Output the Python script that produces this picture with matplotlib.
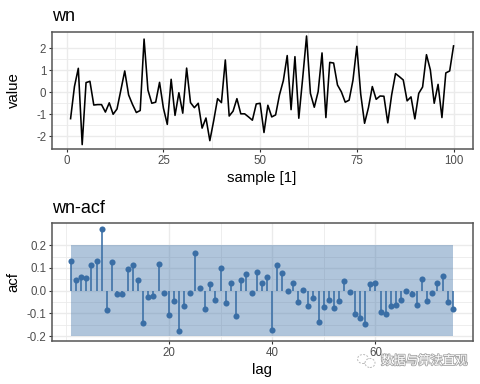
import numpy as np
import matplotlib
matplotlib.use("Agg")
import matplotlib.pyplot as plt
import matplotlib.patheffects as pe
from matplotlib.patches import Ellipse

plt.rcParams['font.family'] = ['Liberation Sans', 'Noto Sans CJK SC', 'DejaVu Sans']

wn = [-1.2,0.26,1.09,-2.38,0.44,0.5,-0.58,-0.56,-0.56,-0.9,-0.48,-1.0,-0.76,0.1,0.97,-0.12,-0.55,-0.92,-0.83,2.42,
      0.1,-0.5,-0.45,0.45,-0.72,-1.46,0.59,-1.05,-0.02,-0.95,1.1,-0.47,-0.7,-0.5,-1.63,-1.17,-2.2,-1.29,-0.29,-0.47,
      1.47,-1.08,-0.86,-0.29,-0.98,-0.98,-1.12,-1.27,-0.53,-0.5,-1.83,-0.59,-1.12,-1.03,-0.12,0.53,1.67,-0.79,1.62,-1.18,
      0.64,2.56,-0.05,-0.68,0.03,1.79,-1.15,1.36,1.33,0.33,0.02,-0.45,-0.36,0.55,2.09,-0.08,-1.41,-0.7,0.26,-0.32,
      -0.17,-0.18,-1.39,-0.12,0.85,0.71,0.56,-0.39,-0.21,-1.21,-0.05,0.24,1.71,1.02,-0.5,0.36,-1.15,0.88,0.97,2.11]
acf = [0.13,0.045,0.062,0.058,0.112,0.132,0.27,-0.085,0.128,-0.014,-0.013,0.094,0.112,0.045,-0.14,-0.029,-0.023,0.119,-0.012,-0.107,
       -0.045,-0.177,-0.068,-0.009,0.164,0.012,-0.08,0.028,-0.042,0.10,-0.055,0.032,-0.112,0.045,0.074,-0.012,0.083,0.033,0.062,-0.171,
       0.112,0.077,-0.003,0.036,-0.051,0.003,-0.067,-0.033,-0.139,-0.071,-0.041,-0.075,-0.046,0.042,-0.006,-0.101,-0.122,-0.146,0.03,0.036,
       -0.094,-0.101,-0.068,-0.061,-0.041,-0.003,-0.014,-0.062,0.051,-0.046,-0.009,0.033,0.065,-0.051,-0.08]
samples = np.arange(1, len(wn) + 1)
lags = np.arange(1, len(acf) + 1)
band = 0.2
top_xticks = [0, 25, 50, 75, 100]
top_yticks = [-2, -1, 0, 1, 2]
bot_xticks = [20, 40, 60]
bot_yticks = [-0.2, -0.1, 0.0, 0.1, 0.2]

W, H = 480, 384
fig = plt.figure(figsize=(W/100, H/100), dpi=100)
GRID = '#ebebeb'
FRAME = '#555555'
TICK = '#4d4d4d'
BLUE = '#3a6ea5'

def panel(l, r, t, b):
    return fig.add_axes([l/W, 1-b/H, (r-l)/W, (b-t)/H])

def style(ax, xt, yt):
    ax.set_xticks(xt)
    ax.set_yticks(yt)
    xm = [(a+b)/2 for a, b in zip(xt[:-1], xt[1:])]
    ym = [(a+b)/2 for a, b in zip(yt[:-1], yt[1:])]
    ax.set_axisbelow(True)
    ax.grid(True, which='major', color=GRID, lw=1.0)
    for v in xm:
        ax.axvline(v, color=GRID, lw=0.6, zorder=0.5)
    for v in ym:
        ax.axhline(v, color=GRID, lw=0.6, zorder=0.5)
    ax.tick_params(length=2.5, width=0.8, color='#333333', labelcolor=TICK, labelsize=8.3, pad=1.5)
    for s in ax.spines.values():
        s.set_color(FRAME)
        s.set_linewidth(1.1)

LABEL = 10.8
ylab_x = (20.5 - 51.7) / 420.8

ax1 = panel(51.7, 472.5, 31.6, 149)
ax1.plot(samples, wn, color='black', lw=1.15)
ax1.set_xlim(-3.88, 104.9)
ax1.set_ylim(-2.58, 2.76)
style(ax1, top_xticks, top_yticks)
ax1.set_xticklabels([str(v) for v in top_xticks])
ax1.set_yticklabels(['-2', '-1', '0', '1', '2'])
ax1.set_xlabel('sample [1]', fontsize=LABEL, labelpad=3)
ax1.set_ylabel('value', fontsize=LABEL)
ax1.yaxis.set_label_coords(ylab_x, 0.5)
ax1.set_title('wn', fontsize=13, loc='left', pad=7.5)

ax2 = panel(51.7, 472.5, 223.3, 341.3)
ax2.fill_between(lags, -band, band, color='#3a6ea5', alpha=0.4, lw=0, zorder=2)
ax2.vlines(lags, 0, acf, color=BLUE, lw=1.15, zorder=3)
ax2.plot(lags, acf, 'o', color=BLUE, ms=4.4, mew=0, zorder=4)
ax2.set_xlim(-2.7, 78.8)
ax2.set_ylim(-0.2225, 0.2965)
style(ax2, bot_xticks, bot_yticks)
for v in (0, 80):
    ax2.axvline(v, color=GRID, lw=0.6, zorder=0.5)
ax2.set_xticks(bot_xticks)
ax2.set_xticklabels([str(v) for v in bot_xticks])
ax2.set_yticklabels(['-0.2', '-0.1', '0.0', '0.1', '0.2'])
ax2.set_xlabel('lag', fontsize=LABEL, labelpad=3)
ax2.set_ylabel('acf', fontsize=LABEL)
ax2.yaxis.set_label_coords(ylab_x, 0.5)
ax2.set_title('wn-acf', fontsize=13, loc='left', pad=7.5)

# watermark
fig.add_artist(Ellipse((363/W, 1-359/H), 11/W, 9/H, transform=fig.transFigure, fc='white',
                       ec='#bbbbbb', lw=0.7, ls=(0, (2, 1.5))))
fig.add_artist(Ellipse((370/W, 1-363/H), 10/W, 9/H, transform=fig.transFigure, fc='white',
                       ec='#bbbbbb', lw=0.7, ls=(0, (2, 1.5))))
fig.text(381/W, 1-361/H, '数据与算法直观', fontsize=8.9, color='white', va='center', ha='left',
         family=['Noto Sans CJK SC', 'DejaVu Sans'],
         path_effects=[pe.withStroke(linewidth=1.2, foreground='#a5a5a5')])

fig.savefig('out.png', dpi=100)
